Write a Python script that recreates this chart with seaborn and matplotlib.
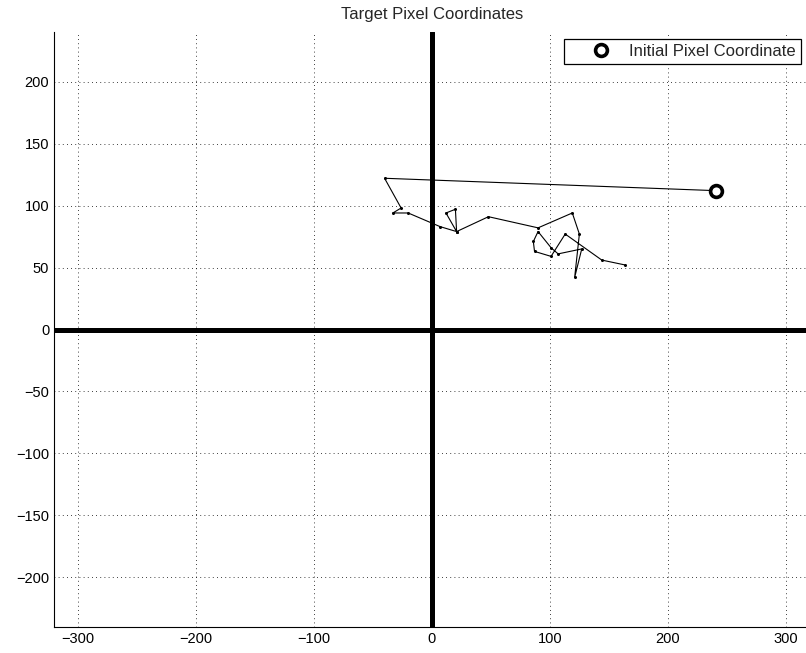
import numpy as np
import pandas as pd
import seaborn as sns
import matplotlib.pyplot as plt

sns.set_style("white")
plt.rcParams['font.family'] = ['Liberation Sans', 'DejaVu Sans']

# target path (pixel coordinates)
path_x = [241, -40, -26, -33, -20, 7, 21, 12, 20, 21, 48, 90, 119, 125, 121,
          127, 107, 101, 90, 86, 87, 101, 113, 144, 164]
path_y = [112, 122, 98, 94, 94, 83, 79, 94, 97, 79, 91, 82, 94, 77, 42,
          65, 61, 66, 79, 71, 63, 59, 77, 56, 52]

init_x = [241]
init_y = [112]

xticks = [-300, -200, -100, 0, 100, 200, 300]
yticks = [-200, -150, -100, -50, 0, 50, 100, 150, 200]

df = pd.DataFrame({'x': path_x, 'y': path_y})

fig = plt.figure(figsize=(8.06, 6.53), dpi=100)
ax = fig.add_axes([54 / 806, 26 / 653, 755.6 / 806, 595 / 653])

# thick axis lines through the origin
ax.axvline(0, color='black', lw=3.6, zorder=1)
ax.axhline(0, color='black', lw=3.6, zorder=1)

sns.lineplot(data=df, x='x', y='y', sort=False, estimator=None, color='black',
             lw=0.8, marker='o', markersize=2.2, markeredgewidth=0, ax=ax, zorder=3)

ax.plot(init_x, init_y, 'o', mfc='white', mec='black', mew=2.6, ms=8.5,
        ls='none', label='Initial Pixel Coordinate', zorder=4)

ax.set_xlim(-320, 320)
ax.set_ylim(-240, 240)
ax.set_xticks(xticks)
ax.set_yticks(yticks)
ax.set_xticklabels([str(t).replace('-', '\u2212') for t in xticks])
ax.set_yticklabels([str(t).replace('-', '\u2212') for t in yticks])
ax.tick_params(direction='in', length=4, width=0.8, labelsize=10.5, colors='black')

ax.grid(True, color='black', lw=0.6, linestyle=(0, (1, 4)))

ax.spines['top'].set_visible(False)
ax.spines['right'].set_visible(False)
for s in ['left', 'bottom']:
    ax.spines[s].set_color('black')
    ax.spines[s].set_linewidth(0.8)

ax.set_xlabel('')
ax.set_ylabel('')
ax.set_title('Target Pixel Coordinates', fontsize=12, pad=9)

leg = ax.legend(loc='upper right', bbox_to_anchor=(0.988, 0.988), fontsize=12,
                frameon=True, fancybox=False, framealpha=1, edgecolor='black',
                handlelength=3.8, handletextpad=-0.2, borderpad=0.3,
                borderaxespad=0)
leg.get_frame().set_linewidth(0.9)

fig.savefig('out.png', dpi=100)
